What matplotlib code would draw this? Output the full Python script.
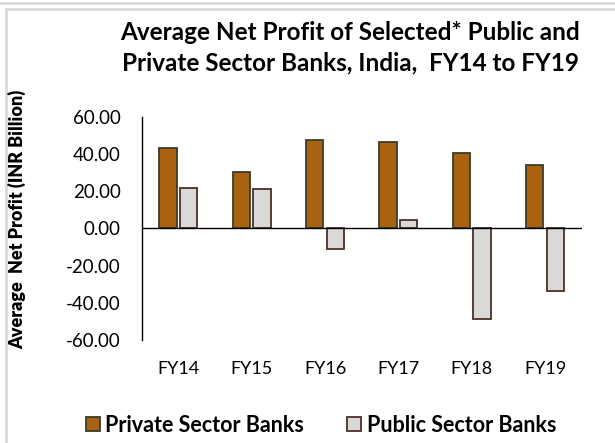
import matplotlib
matplotlib.use("Agg")
import matplotlib.pyplot as plt
from matplotlib.lines import Line2D
from matplotlib.patches import Patch
import numpy as np

categories = ["FY14", "FY15", "FY16", "FY17", "FY18", "FY19"]
private_vals = [43.0, 30.3, 47.6, 46.4, 40.3, 34.2]
public_vals = [21.5, 21.3, -11.0, 4.3, -48.7, -33.7]
series_names = ["Private Sector Banks", "Public Sector Banks"]
yticks = [-60, -40, -20, 0, 20, 40, 60]

plt.rcParams['font.family'] = ['Lato', 'DejaVu Sans']

fig = plt.figure(figsize=(6.15, 4.43), dpi=100)
ax = fig.add_axes([0.2304, 0.2325, 0.946 - 0.2304, 0.7366 - 0.2325])

x = np.arange(len(categories))
w = 0.236
gap = 0.045
priv_col = "#A9620F"
priv_edge = "#3A3D2A"
pub_col = "#D9D9D9"
pub_edge = "#4B3025"

ax.bar(x - (w + gap) / 2, private_vals, width=w, color=priv_col,
       edgecolor=priv_edge, linewidth=1.3, zorder=2)
ax.bar(x + (w + gap) / 2, public_vals, width=w, color=pub_col,
       edgecolor=pub_edge, linewidth=1.3, zorder=2)

ax.set_xlim(-0.5, len(categories) - 0.5)
ax.set_ylim(-60, 60)
ax.set_yticks(yticks)
ax.set_yticklabels([f"{v:.2f}" for v in yticks], fontsize=13.5)
ax.set_xticks(x)
ax.set_xticklabels(categories, fontsize=13)
ax.tick_params(axis='y', length=0, pad=15)
ax.tick_params(axis='x', length=0, pad=15)

for s in ["top", "right", "bottom"]:
    ax.spines[s].set_visible(False)
ax.spines["left"].set_linewidth(1.0)
ax.spines["left"].set_color("black")
ax.axhline(0, color="black", linewidth=1.0, zorder=3)

fig.text(17 / 615, 1 - 219 / 443, "Average  Net Profit (INR Billion)", rotation=90,
         fontsize=13, fontweight="heavy", ha="center", va="center")

fig.text(350 / 615, 1 - 32 / 443, "Average Net Profit of Selected* Public and",
         fontsize=17.5, fontweight="bold", ha="center", va="center")
fig.text(350 / 615, 1 - 63 / 443, "Private Sector Banks, India,  FY14 to FY19",
         fontsize=17.5, fontweight="bold", ha="center", va="center")

handles = [Patch(facecolor=priv_col, edgecolor=priv_edge, linewidth=1.3),
           Patch(facecolor=pub_col, edgecolor=pub_edge, linewidth=1.3)]
leg = fig.legend(handles, series_names, loc="center",
                 bbox_to_anchor=(321 / 615, 1 - 425 / 443),
                 ncol=2, frameon=False, prop={"weight": "bold", "size": 15.5},
                 handlelength=0.65, handleheight=0.65, handletextpad=0.25,
                 columnspacing=2.0)

# frame lines
fig.add_artist(Line2D([0.0, 1.0], [1 - 3 / 443, 1 - 3 / 443], color="#D9D9D9",
                      linewidth=2, transform=fig.transFigure))
fig.add_artist(Line2D([6 / 615, 1.0], [1 - 9 / 443, 1 - 9 / 443], color="#D9D9D9",
                      linewidth=2, transform=fig.transFigure))
fig.add_artist(Line2D([6 / 615, 6 / 615], [0, 1 - 9 / 443], color="#D9D9D9",
                      linewidth=2, transform=fig.transFigure))

fig.savefig("out.png", dpi=100)
